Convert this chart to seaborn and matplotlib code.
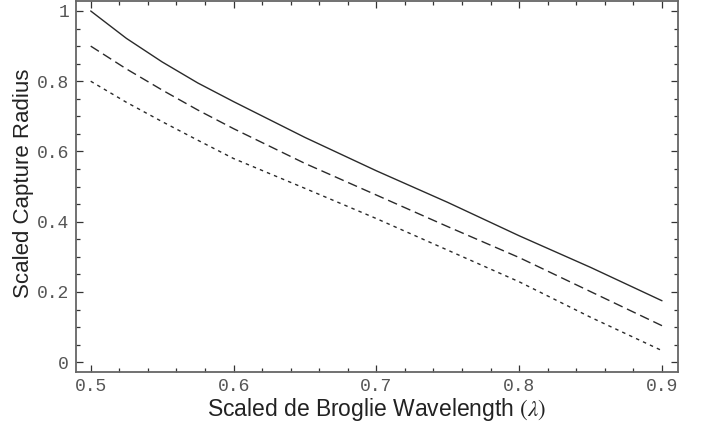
import matplotlib
matplotlib.use("Agg")
import matplotlib.pyplot as plt
import seaborn as sns
import pandas as pd
from matplotlib.ticker import MultipleLocator, FixedLocator

wavelength = [0.5, 0.525, 0.55, 0.575, 0.6, 0.65, 0.7, 0.75, 0.8, 0.85, 0.9]
radius_solid = [1.0, 0.922, 0.855, 0.795, 0.742, 0.64, 0.545, 0.455, 0.36, 0.27, 0.175]
radius_dashed = [0.9, 0.835, 0.775, 0.718, 0.665, 0.566, 0.476, 0.386, 0.298, 0.201, 0.104]
radius_dotted = [0.8, 0.74, 0.685, 0.632, 0.58, 0.495, 0.409, 0.319, 0.229, 0.128, 0.033]

xticks = [0.5, 0.6, 0.7, 0.8, 0.9]
xtick_labels = ["0.5", "0.6", "0.7", "0.8", "0.9"]
yticks = [0, 0.2, 0.4, 0.6, 0.8, 1.0]
ytick_labels = ["0", "0.2", "0.4", "0.6", "0.8", "1"]

sns.set_theme(style="white")
plt.rcParams["font.family"] = ["Liberation Sans", "DejaVu Sans"]
plt.rcParams["mathtext.fontset"] = "stix"

fig = plt.figure(figsize=(7.01, 4.25), dpi=100)
ax = fig.add_axes([76 / 701, 1 - 372.3 / 425, (677.7 - 76) / 701, (372.3 - 0.8) / 425])

df = pd.DataFrame({"x": wavelength, "s": radius_solid, "d": radius_dashed, "o": radius_dotted})
line_color = "#2a2a2a"
sns.lineplot(data=df, x="x", y="s", ax=ax, color=line_color, linewidth=1.0)
sns.lineplot(data=df, x="x", y="d", ax=ax, color=line_color, linewidth=1.0)
ax.lines[-1].set_dashes([7, 3.5])
sns.lineplot(data=df, x="x", y="o", ax=ax, color=line_color, linewidth=1.0)
ax.lines[-1].set_dashes([2.5, 3])

ax.set_xlim(0.4897, 0.911)
ax.set_ylim(-0.0287, 1.029)

ax.xaxis.set_major_locator(FixedLocator(xticks))
ax.set_xticklabels(xtick_labels)
ax.yaxis.set_major_locator(FixedLocator(yticks))
ax.set_yticklabels(ytick_labels)
ax.xaxis.set_minor_locator(MultipleLocator(0.02))
ax.yaxis.set_minor_locator(MultipleLocator(0.05))

spine_color = "#666666"
for sp in ax.spines.values():
    sp.set_color(spine_color)
    sp.set_linewidth(1.3)
    sp.set_visible(True)

ax.tick_params(which="both", direction="in", top=True, right=True, bottom=True, left=True,
               color="#333333", width=0.9)
ax.tick_params(which="major", length=5)
ax.tick_params(which="minor", length=3)
ax.tick_params(axis="both", which="major", labelsize=13, labelcolor="#555555")
ax.tick_params(axis="x", which="major", pad=4)
ax.tick_params(axis="y", which="major", pad=5)
for lab in ax.get_xticklabels() + ax.get_yticklabels():
    lab.set_fontfamily(["Liberation Mono", "DejaVu Sans Mono"])

ax.set_xlabel(r"Scaled de Broglie Wavelength $(\lambda)$", fontsize=16.5, color="#222222", labelpad=1)
ax.set_ylabel("Scaled Capture Radius", fontsize=16, color="#222222")
ax.yaxis.set_label_coords(-0.069, 0.51)
ax.grid(False)

fig.savefig("out.png", dpi=100)
